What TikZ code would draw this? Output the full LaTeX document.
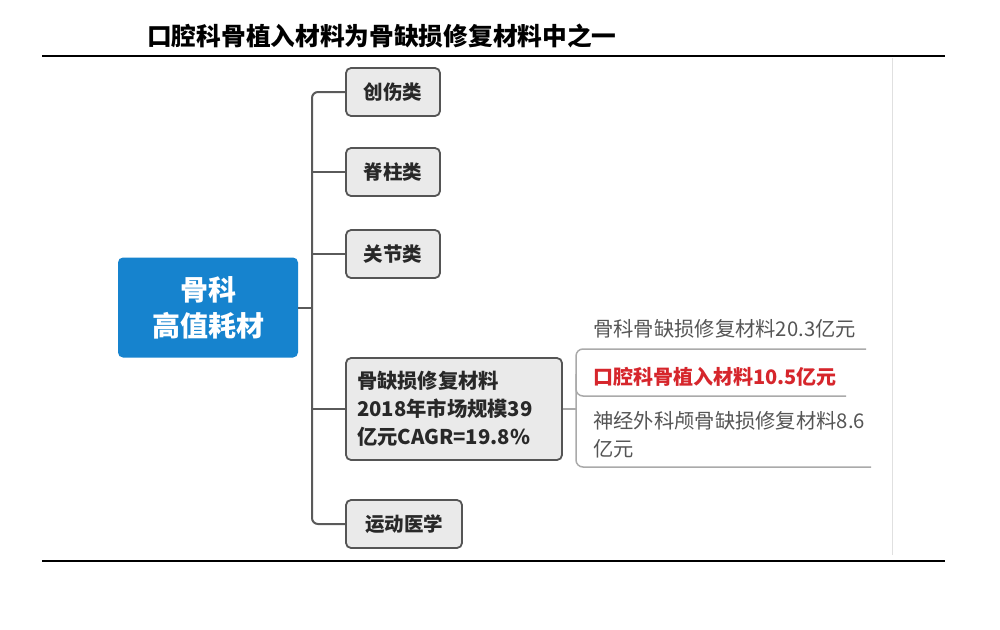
\documentclass[tikz,border=0pt]{standalone}
\usepackage{fontspec}
\usetikzlibrary{calc}
\setmainfont{Noto Sans CJK SC}
\definecolor{rootblue}{RGB}{22,131,206}
\definecolor{boxfill}{RGB}{234,234,234}
\definecolor{boxline}{RGB}{85,85,85}
\definecolor{connc}{RGB}{90,90,90}
\definecolor{textdark}{RGB}{40,40,40}
\definecolor{leafc}{RGB}{85,85,85}
\definecolor{ulc}{RGB}{170,170,170}
\definecolor{redtxt}{RGB}{214,38,44}
\tikzset{
 catbox/.style={draw=boxline, fill=boxfill, line width=1.8pt, rounded corners=5pt,
   font=\fontsize{19.5}{28}\selectfont\bfseries, text=textdark, inner sep=0pt,
   minimum height=48pt, minimum width=94pt},
 rootbox/.style={fill=rootblue, rounded corners=5pt, text=white,
   font=\fontsize{28}{36}\selectfont\bfseries, align=center,
   minimum width=180pt, minimum height=100pt, inner sep=0pt},
 conn/.style={draw=connc, line width=2pt, rounded corners=6pt},
 leaf/.style={font=\fontsize{20.3}{28}\selectfont, text=leafc, anchor=west, inner sep=0pt, align=left},
 uline/.style={draw=ulc, line width=1.5pt, rounded corners=7pt},
 rule/.style={draw=black, line width=2pt}
}
\begin{document}
\begin{tikzpicture}[x=1pt,y=-1pt]
\useasboundingbox (0,0) rectangle (1000,629);
\fill[white] (0,0) rectangle (1000,629);

% title and rules
\node[anchor=west, inner sep=0pt, font=\fontsize{24.7}{28}\selectfont\bfseries] (title) at (147,36) {口腔科骨植入材料为骨缺损修复材料中之一};
\coordinate (r1a) at (42,56); \coordinate (r1b) at (945,56);
\coordinate (r2a) at (42,561); \coordinate (r2b) at (945,561);
\draw[rule] (r1a) -- (r1b);
\draw[rule, line width=1.6pt] (r2a) -- (r2b);
\coordinate (va) at (892,58); \coordinate (vb) at (892,555);
\draw[draw=black!12, line width=1pt] (va) -- (vb);

% nodes
\node[rootbox] (root) at (208,307.5) {骨科\\高值耗材};
\node[catbox] (c1) at (393,92) {创伤类};
\node[catbox] (c2) at (393,172) {脊柱类};
\node[catbox] (c3) at (393,254) {关节类};
\node[catbox, font=\fontsize{20.3}{28}\selectfont\bfseries, minimum width=216pt, minimum height=102pt, align=left, text width=194pt] (c4) at (454,409) {骨缺损修复材料\\2018年市场规模39\\亿元CAGR=19.8\%};
\node[catbox, minimum width=116pt] (c5) at (404,524) {运动医学};

% trunk
\coordinate (tx) at (312,0);
\draw[conn] (c1.west) -- (c1.west -| tx) -- (c5.west -| tx) -- (c5.west);
\draw[conn] (c2.west) -- (c2.west -| tx);
\draw[conn] (c3.west) -- (c3.west -| tx);
\draw[conn] (c4.west) -- (c4.west -| tx);
\draw[conn] (root.east) -- (root.east -| tx);

% leaves
\node[leaf] (l1) at (593,329) {骨科骨缺损修复材料20.3亿元};
\node[leaf, text=redtxt, font=\fontsize{20}{28}\selectfont\bfseries] (l2) at (593,377) {口腔科骨植入材料10.5亿元};
\node[leaf] (l3) at (593,435) {神经外科颅骨缺损修复材料8.6\\亿元};

\coordinate (vx) at (576,0);
\coordinate (u1) at (866,349);
\coordinate (u2) at (846,396);
\coordinate (u3) at (871,467);
\draw[uline] (u1) -- (u1 -| vx) -- (u3 -| vx) -- (u3);
\draw[uline] ($(u2 -| vx)+(0,-22)$) |- (u2);
\draw[draw=ulc, line width=1.5pt] (c4.east) -- (c4.east -| vx);
\end{tikzpicture}
\end{document}
